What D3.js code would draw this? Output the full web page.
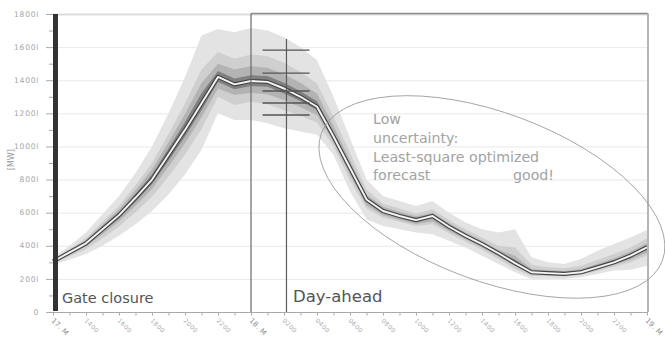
<!DOCTYPE html>
<html><head><meta charset="utf-8">
<script src="https://cdn.jsdelivr.net/npm/d3@7"></script>
<style>
html,body{margin:0;padding:0;background:#fff;}
svg{display:block;}
</style></head>
<body>
<svg id="c" width="665" height="349"></svg>
<script>
// ---- data (hours since 17 Mar 00:00, MW) ----
const hours = d3.range(12, 49); // 12 .. 48 hourly
const median = [3050,3600,4150,5000,5850,6900,8000,9500,11000,12600,14200,13750,13950,13900,13500,13000,12400,10600,8700,6800,6100,5800,5550,5800,5150,4600,4100,3550,2950,2400,2350,2300,2400,2700,3000,3400,3900];
const upper1 = [3300,4000,4800,5900,7000,8400,10000,12000,14200,16700,17100,16900,17150,17000,16600,16000,15200,13000,10500,8000,7000,6700,6400,6700,6000,5400,5000,4800,5000,3300,3000,2900,3200,3700,4100,4500,4950];
const upper2 = [3180,3800,4475,5450,6425,7650,9000,10750,12600,14650,15700,15300,15550,15450,15050,14500,13800,11800,9600,7400,6550,6250,5950,6200,5550,5000,4500,4000,3900,2850,2700,2650,2800,3150,3500,3900,4450];
const upper3 = [3120,3720,4345,5270,6195,7350,8600,10250,11960,13830,15000,14650,14850,14750,14350,13850,13200,11250,9150,7100,6350,6050,5780,6000,5370,4800,4300,3750,3400,2600,2520,2470,2600,2920,3250,3650,4150];
const upper4 = [3080,3660,4250,5135,6020,7125,8300,9875,11480,13215,14550,14100,14300,14250,13850,13330,12730,10880,8900,6950,6220,5920,5660,5900,5250,4700,4200,3650,3150,2500,2440,2390,2500,2800,3120,3520,4050];
const lower4 = [3030,3530,4050,4850,5660,6660,7715,9140,10595,12180,13900,13450,13650,13600,13200,12750,12200,10470,8530,6650,5990,5700,5460,5660,5050,4520,4020,3470,2880,2350,2310,2270,2360,2650,2940,3300,3780];
const lower3 = [2990,3465,3955,4700,5475,6420,7430,8780,10190,11760,13500,13100,13250,13150,12800,12370,11900,10270,8280,6450,5850,5560,5320,5470,4900,4390,3890,3340,2780,2280,2250,2210,2310,2580,2850,3150,3580];
const lower2 = [2940,3350,3790,4450,5160,6020,6955,8180,9515,11060,13000,12500,12700,12550,12200,11850,11450,10000,7950,6250,5700,5450,5200,5300,4750,4250,3750,3200,2600,2180,2170,2150,2230,2480,2730,3000,3400];
const lower1 = [2850,3150,3500,4000,4600,5300,6100,7100,8300,9800,12000,11600,11600,11400,11100,10900,10700,9500,7300,5600,5200,5000,4800,4700,4300,3900,3400,2900,2400,2000,2000,2000,2100,2300,2500,2550,2800];

const xTickValues = [12,14,16,18,20,22,24,26,28,30,32,34,36,38,40,42,44,46,48];
const xTickLabels = ["17. M","1400","1600","1800","2000","2200","18. M","0200","0400","0600","0800","1000","1200","1400","1600","1800","2000","2200","19. M"];
const yTickValues = [0,2000,4000,6000,8000,10000,12000,14000,16000,18000];
const yTickLabels = ["0","200l","400l","600l","800l","1000l","1200l","1400l","1600l","1800l"];

const gateClosure = 12;      // hour
const dayAheadStart = 24;    // hour
const markerTime = 26.15;    // hour of the quantile marker
const markerQuantiles = [15820,14430,13345,12620,11900];

// ---- layout ----
const W = 665, H = 349;
const m = {l:53, r:17, t:14, b:37};
const svg = d3.select("#c");
const x = d3.scaleLinear().domain([12,48]).range([m.l, W - m.r - 1]);
const y = d3.scaleLinear().domain([0,18000]).range([H - m.b, m.t]);

// grid
svg.append("g").selectAll("line").data(yTickValues.filter(v=>v>0)).join("line")
  .attr("x1", x(12)).attr("x2", W - m.r + 1)
  .attr("y1", d=>y(d)+0.5).attr("y2", d=>y(d)+0.5)
  .attr("stroke", d=> d===18000 ? "#dcdcdc" : "#e9e9e9")
  .attr("stroke-width", d=> d===18000 ? 2 : 1);

// bands
const bands = [
  [upper1, lower1, "#e3e3e3"],
  [upper2, lower2, "#cfcfcf"],
  [upper3, lower3, "#b3b3b3"],
  [upper4, lower4, "#808080"]
];
const area = (up, lo) => d3.area()
  .x((d,i)=>x(hours[i])).y0((d,i)=>y(lo[i])).y1((d,i)=>y(up[i]))
  .curve(d3.curveLinear)(hours);
bands.forEach(([up, lo, c]) => {
  svg.append("path").attr("d", area(up, lo)).attr("fill", c);
});
const line = d3.line().x((d,i)=>x(hours[i])).y((d,i)=>y(median[i]));
svg.append("path").attr("d", line(hours)).attr("fill","none")
  .attr("stroke","#444").attr("stroke-width",4.2).attr("stroke-linejoin","round");
svg.append("path").attr("d", line(hours)).attr("fill","none")
  .attr("stroke","#f4f4f4").attr("stroke-width",1.9).attr("stroke-linejoin","round");

// day-ahead frame
const fx0 = x(dayAheadStart), fx1 = x(48)+1, fy0 = y(18000)-0.5, fy1 = y(0);
svg.append("line").attr("x1",fx0).attr("x2",fx1).attr("y1",fy0).attr("y2",fy0)
  .attr("stroke","#8a8a8a").attr("stroke-width",1.3);
svg.append("line").attr("x1",fx1).attr("x2",fx1).attr("y1",fy0).attr("y2",fy1)
  .attr("stroke","#b5b5b5").attr("stroke-width",2);
svg.append("line").attr("x1",fx0).attr("x2",fx0).attr("y1",fy0).attr("y2",fy1)
  .attr("stroke","#6a6a6a").attr("stroke-width",1.2);
// marker
svg.append("line").attr("x1",x(markerTime)).attr("x2",x(markerTime))
  .attr("y1",y(d3.max(markerQuantiles)) - 11).attr("y2",fy1)
  .attr("stroke","#5a5a5a").attr("stroke-width",1.2);
svg.append("g").selectAll("line").data(markerQuantiles).join("line")
  .attr("x1", x(markerTime-1.45)).attr("x2", x(markerTime+1.4))
  .attr("y1", d=>y(d)).attr("y2", d=>y(d))
  .attr("stroke","#555").attr("stroke-width",1.4);

// gate closure bar
svg.append("rect").attr("x", x(gateClosure)).attr("y", y(18000))
  .attr("width", 5).attr("height", y(0) - y(18000) - 1).attr("fill","#333");

// axes
const axisColor = "#aaa";
svg.append("line").attr("x1", x(12)).attr("x2", x(48)+1).attr("y1", y(0)+0.5).attr("y2", y(0)+0.5)
  .attr("stroke", axisColor);
svg.append("g").selectAll("line").data(hours).join("line")
  .attr("x1", d=>x(d)+0.5).attr("x2", d=>x(d)+0.5)
  .attr("y1", y(0)).attr("y2", y(0)+3.5).attr("stroke", axisColor);
svg.append("g").selectAll("line").data(d3.range(0,18001,1000)).join("line")
  .attr("x1", d=> x(12) - (d%2000===0 ? 7 : 4)).attr("x2", x(12))
  .attr("y1", d=>y(d)+0.5).attr("y2", d=>y(d)+0.5).attr("stroke", axisColor);

svg.append("g").selectAll("text").data(yTickValues).join("text")
  .attr("x", 39).attr("y", d=>y(d)).attr("dy","0.35em")
  .attr("text-anchor","end").attr("font-family","DejaVu Sans")
  .attr("font-size","7.6px").attr("letter-spacing","0.7px").attr("fill","#a6a6a6")
  .text((d,i)=>yTickLabels[i]);

svg.append("g").selectAll("text").data(xTickValues).join("text")
  .attr("transform", d=>`translate(${x(d)-2},${y(0)+9}) rotate(45)`)
  .attr("font-family","DejaVu Sans")
  .attr("font-size",(d,i)=> xTickLabels[i].includes("M") ? "7px" : "6.2px")
  .attr("fill",(d,i)=> xTickLabels[i].includes("M") ? "#888" : "#b0b0b0")
  .attr("letter-spacing",(d,i)=> xTickLabels[i].includes("M") ? "0.3px" : "0.4px")
  .text((d,i)=>xTickLabels[i]);

svg.append("text").attr("transform",`translate(14,${y(9200)}) rotate(-90)`)
  .attr("text-anchor","middle").attr("font-family","DejaVu Sans")
  .attr("font-size","8px").attr("fill","#999").text("[MW]");

// annotations
svg.append("text").attr("x", x(gateClosure)+9).attr("y", y(0)-9)
  .attr("font-family","DejaVu Sans").attr("font-size","14.5px").attr("fill","#555")
  .text("Gate closure");
svg.append("text").attr("x", x(dayAheadStart)+42).attr("y", y(0)-10)
  .attr("font-family","DejaVu Sans").attr("font-size","16.5px").attr("fill","#555")
  .text("Day-ahead");

const noteX = 373;
const noteLines = ["Low","uncertainty:","Least-square optimized","forecast"];
svg.append("g").selectAll("text").data(noteLines).join("text")
  .attr("x", noteX).attr("y",(d,i)=>124 + i*18.8)
  .attr("font-family","DejaVu Sans").attr("font-size","14.2px").attr("fill","#a3a3a3")
  .text(d=>d);
svg.append("text").attr("x", 513).attr("y", 124 + 3*18.8)
  .attr("font-family","DejaVu Sans").attr("font-size","14.2px").attr("fill","#a3a3a3")
  .text("good!");

svg.append("ellipse").attr("cx", 0).attr("cy", 0).attr("rx", 182).attr("ry", 84)
  .attr("transform", `translate(${x(38.6)},${y(6950)}) rotate(20.5)`)
  .attr("fill","none").attr("stroke","#9a9a9a").attr("stroke-width",0.8);
</script>
</body></html>
